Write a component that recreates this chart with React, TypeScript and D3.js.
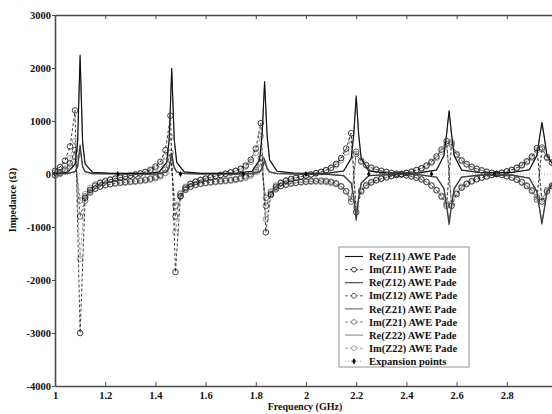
import React, { useEffect, useRef } from 'react';
import * as d3 from 'd3';

// sweep used for the imaginary parts (GHz)
const freqs = [
  1.00, 1.02, 1.04, 1.06, 1.08, 1.10, 1.12, 1.14, 1.16, 1.18,
  1.20, 1.22, 1.24, 1.26, 1.28, 1.30, 1.32, 1.34, 1.36, 1.38,
  1.40, 1.42, 1.44, 1.46, 1.48, 1.50, 1.52, 1.54, 1.56, 1.58,
  1.60, 1.62, 1.64, 1.66, 1.68, 1.70, 1.72, 1.74, 1.76, 1.78,
  1.80, 1.82, 1.84, 1.86, 1.88, 1.90, 1.92, 1.94, 1.96, 1.98,
  2.00, 2.02, 2.04, 2.06, 2.08, 2.10, 2.12, 2.14, 2.16, 2.18,
  2.20, 2.22, 2.24, 2.26, 2.28, 2.30, 2.32, 2.34, 2.36, 2.38,
  2.40, 2.42, 2.44, 2.46, 2.48, 2.50, 2.52, 2.54, 2.56, 2.58,
  2.60, 2.62, 2.64, 2.66, 2.68, 2.70, 2.72, 2.74, 2.76, 2.78,
  2.80, 2.82, 2.84, 2.86, 2.88, 2.90, 2.92, 2.94, 2.96, 2.98,
  3.00,
];

const imZ11 = [
  60, 130, 250, 520, 1200, -3000,
  -450, -300, -220, -170, -140, -110, -90, -70, -50, -30, -10, 10, 40, 80, 140, 230, 450, 1100,
  -1850,
  -420, -260, -190, -150, -115, -90, -65, -40, -20, 5, 30, 60, 100, 160, 270, 480, 960,
  -1100,
  -380, -240, -170, -130, -100, -75, -50, -30, -10, 15, 40, 75, 120, 190, 300, 480, 770,
  -720,
  -330, -220, -160, -120, -90, -65, -40, -20, 0, 20, 45, 75, 110, 160, 230, 330, 460, 620,
  -600,
  -380, -260, -190, -140, -100, -70, -45, -20, 0, 25, 50, 80, 120, 170, 240, 330, 490,
  -520, -330, -230, -170,
];

const imZ12 = [
  -20, 20, 80, 200, 450, -800,
  -500, -350, -280, -240, -210, -190, -175, -160, -150, -140, -130, -120, -105, -85, -60, -20, 80, 400,
  -800,
  -420, -300, -240, -200, -180, -165, -150, -140, -130, -120, -110, -95, -75, -45, 0, 80, 300,
  -600,
  -400, -290, -230, -200, -180, -165, -150, -140, -130, -125, -125, -130, -145, -175, -230, -330, -520,
  420,
  250, 170, 120, 85, 60, 40, 20, 5, -10, -25, -45, -70, -100, -150, -220, -310, -430, -600,
  560,
  360, 250, 180, 130, 95, 65, 40, 20, 0, -20, -45, -70, -110, -160, -230, -320, -480,
  500, 320, 220, 160,
];

const imZ21 = [
  -30, 0, 50, 140, 320, -500,
  -420, -330, -270, -235, -210, -195, -182, -172, -163, -155, -146, -136, -122, -104, -80, -45, 20, 250,
  -600,
  -380, -290, -240, -210, -190, -175, -163, -153, -144, -135, -125, -112, -95, -70, -30, 40, 200,
  -450,
  -350, -270, -225, -198, -180, -168, -158, -150, -145, -143, -145, -152, -165, -190, -240, -320, -470,
  380,
  230, 160, 115, 82, 58, 38, 20, 4, -12, -28, -48, -72, -104, -150, -215, -300, -410, -560,
  600,
  380, 265, 190, 140, 102, 72, 46, 24, 4, -16, -40, -66, -102, -150, -215, -300, -440,
  470, 300, 210, 150,
];

const imZ22 = [
  30, 80, 160, 300, 620, -1600,
  -380, -260, -195, -155, -125, -100, -80, -62, -45, -28, -10, 8, 30, 60, 105, 180, 330, 700,
  -1100,
  -360, -240, -175, -135, -105, -80, -58, -36, -16, 5, 28, 55, 90, 140, 230, 400, 720,
  -850,
  -330, -215, -155, -118, -90, -66, -45, -26, -8, 14, 36, 66, 105, 165, 260, 410, 650,
  -620,
  -300, -200, -145, -108, -80, -58, -36, -18, 0, 18, 40, 68, 100, 145, 210, 300, 420, 570,
  -560,
  -350, -240, -175, -128, -92, -64, -40, -18, 0, 22, 46, 74, 110, 156, 220, 305, 450,
  -480, -300, -210, -155,
];

// real parts are sampled more finely around each resonance
const reFreqs = [
  1.00, 1.05, 1.08, 1.09, 1.10, 1.11, 1.12, 1.15,
  1.22, 1.30, 1.38,
  1.415, 1.445, 1.455, 1.465, 1.475, 1.485, 1.515,
  1.58, 1.65, 1.72,
  1.785, 1.815, 1.825, 1.835, 1.845, 1.855, 1.885,
  1.95, 2.02, 2.09,
  2.15, 2.18, 2.19, 2.20, 2.21, 2.22, 2.25,
  2.32, 2.385, 2.45,
  2.52, 2.55, 2.56, 2.57, 2.58, 2.59, 2.62,
  2.69, 2.755, 2.82,
  2.89, 2.92, 2.93, 2.94, 2.95, 2.96, 3.00,
];

const reZ11 = [
  8, 32, 187, 596, 2250, 596, 187, 32,
  15, 12, 15,
  40, 220, 660, 2000, 660, 220, 40,
  15, 12, 15,
  50, 270, 735, 1750, 735, 270, 50,
  18, 14, 18,
  57, 296, 740, 1480, 740, 296, 57,
  22, 17, 22,
  76, 356, 755, 1200, 755, 356, 76,
  28, 22, 28,
  81, 352, 680, 980, 680, 352, 58,
];

const reZ12 = [
  2, 8, 46, 146, 550, 146, 46, 8,
  4, 0, -4,
  8, 44, 132, 400, 132, 44, 8,
  2, 0, -2,
  8, 43, 117, 280, 117, 43, 8,
  0, -4, -8,
  -34, -176, -440, -880, -440, -176, -34,
  -13, -10, -13,
  -60, -285, -603, -960, -603, -285, -60,
  -22, -18, -22,
  -79, -342, -657, -950, -657, -342, -56,
];

const reZ21 = [
  2, 7, 40, 127, 480, 127, 40, 7,
  3, 0, -3,
  6, 36, 109, 330, 109, 36, 6,
  2, 0, -2,
  6, 34, 92, 220, 92, 34, 6,
  0, -4, -7,
  -31, -164, -410, -820, -410, -164, -31,
  -12, -9, -12,
  -57, -267, -565, -900, -565, -267, -57,
  -21, -17, -21,
  -75, -324, -623, -900, -623, -324, -53,
];

const reZ22 = [
  8, 31, 183, 583, 2200, 583, 183, 31,
  14, 11, 14,
  38, 214, 642, 1950, 642, 214, 38,
  14, 11, 14,
  48, 260, 712, 1700, 712, 260, 48,
  17, 13, 17,
  55, 288, 720, 1440, 720, 288, 55,
  21, 16, 21,
  73, 344, 730, 1160, 730, 344, 73,
  27, 21, 27,
  79, 342, 657, 950, 657, 342, 56,
];

const expansionFreqs = [1, 1.25, 1.5, 1.75, 2, 2.25, 2.5, 2.75, 3];
const expansionValues = [0, 0, 0, 0, 0, 0, 0, 0, 0];

// the 3 GHz tick falls just outside the visible frame
const xTicks = [1, 1.2, 1.4, 1.6, 1.8, 2, 2.2, 2.4, 2.6, 2.8];
const yTicks = [-4000, -3000, -2000, -1000, 0, 1000, 2000, 3000];

const legendLabels = [
  'Re(Z11) AWE Pade', 'Im(Z11) AWE Pade',
  'Re(Z12) AWE Pade', 'Im(Z12) AWE Pade',
  'Re(Z21) AWE Pade', 'Im(Z21) AWE Pade',
  'Re(Z22) AWE Pade', 'Im(Z22) AWE Pade',
  'Expansion points',
];

const seriesColors = ['#111', '#111', '#3c3c3c', '#3c3c3c', '#666', '#666', '#8c8c8c', '#8c8c8c'];

const W = 552;
const H = 414;
const FONT = "'Liberation Serif', 'Times New Roman', serif";

export default function App() {
  const svgRef = useRef<SVGSVGElement>(null);

  useEffect(() => {
    if (!svgRef.current) return;
    const svg = d3.select(svgRef.current);
    svg.selectAll('*').remove();

    const x = d3.scaleLinear().domain([1, 3]).range([55, 557]);
    const y = d3.scaleLinear().domain([-4000, 3000]).range([386, 15]);

    const series = [
      { label: legendLabels[0], xs: reFreqs, ys: reZ11, color: seriesColors[0], im: false },
      { label: legendLabels[1], xs: freqs, ys: imZ11, color: seriesColors[1], im: true },
      { label: legendLabels[2], xs: reFreqs, ys: reZ12, color: seriesColors[2], im: false },
      { label: legendLabels[3], xs: freqs, ys: imZ12, color: seriesColors[3], im: true },
      { label: legendLabels[4], xs: reFreqs, ys: reZ21, color: seriesColors[4], im: false },
      { label: legendLabels[5], xs: freqs, ys: imZ21, color: seriesColors[5], im: true },
      { label: legendLabels[6], xs: reFreqs, ys: reZ22, color: seriesColors[6], im: false },
      { label: legendLabels[7], xs: freqs, ys: imZ22, color: seriesColors[7], im: true },
    ];

    const line = d3.line<[number, number]>().x(d => x(d[0])).y(d => y(d[1]));
    const plot = svg.append('g');

    // expansion points: dotted line along zero
    const expPts = expansionFreqs.map((f, i) => [f, expansionValues[i]] as [number, number]);
    plot.append('path')
      .attr('d', line(expPts))
      .attr('fill', 'none')
      .attr('stroke', '#888')
      .attr('stroke-width', 0.8)
      .attr('stroke-dasharray', '1,2');

    // draw the lightest first so Z11 stays on top; imag before real
    const order = [7, 5, 3, 1, 6, 4, 2, 0];
    order.forEach(idx => {
      const s = series[idx];
      const pts = s.xs.map((f, i) => [f, s.ys[i]] as [number, number]);
      plot.append('path')
        .attr('d', line(pts))
        .attr('fill', 'none')
        .attr('stroke', s.color)
        .attr('stroke-width', s.im ? 0.8 : 1.1)
        .attr('stroke-dasharray', s.im ? '3,2' : null);
      if (s.im) {
        plot.append('g').selectAll('circle')
          .data(pts)
          .join('circle')
          .attr('cx', d => x(d[0]))
          .attr('cy', d => y(d[1]))
          .attr('r', 2.8)
          .attr('fill', 'none')
          .attr('stroke', s.color)
          .attr('stroke-width', 0.8);
      }
    });

    plot.append('g').selectAll('path')
      .data(expPts)
      .join('path')
      .attr('transform', d => `translate(${x(d[0])},${y(d[1])})`)
      .attr('d', d3.symbol().type(d3.symbolDiamond).size(10)())
      .attr('fill', '#000');

    // axes
    const axisColor = '#4a4a4a';
    const styleAxis = (g: d3.Selection<SVGGElement, unknown, null, undefined>) => {
      g.select('.domain').attr('stroke', axisColor).attr('stroke-width', 1.6);
      g.selectAll('.tick line').attr('stroke', axisColor).attr('stroke-width', 1);
      g.selectAll('.tick text')
        .attr('fill', '#111')
        .attr('font-family', FONT)
        .attr('font-weight', 'bold')
        .attr('font-size', 10.5);
    };

    svg.append('g')
      .attr('transform', 'translate(0,386)')
      .call(d3.axisBottom(x).tickValues(xTicks).tickSize(-4).tickSizeOuter(0).tickPadding(6).tickFormat(d => String(d)))
      .call(styleAxis);

    svg.append('g')
      .attr('transform', 'translate(0,15)')
      .call(d3.axisTop(x).tickValues(xTicks).tickSize(-4).tickSizeOuter(0).tickFormat(() => ''))
      .call(styleAxis);

    svg.append('g')
      .attr('transform', 'translate(55,0)')
      .call(d3.axisLeft(y).tickValues(yTicks).tickSize(3).tickSizeOuter(0).tickPadding(1).tickFormat(d => String(d)))
      .call(styleAxis);

    // axis titles
    svg.append('text')
      .attr('x', 305)
      .attr('y', 410)
      .attr('text-anchor', 'middle')
      .attr('font-family', FONT)
      .attr('font-weight', 'bold')
      .attr('font-size', 10)
      .attr('fill', '#111')
      .text('Frequency (GHz)');

    svg.append('text')
      .attr('transform', 'translate(16,200) rotate(-90)')
      .attr('text-anchor', 'middle')
      .attr('font-family', FONT)
      .attr('font-weight', 'bold')
      .attr('font-size', 10)
      .attr('fill', '#111')
      .text('Impedance (Ω)');

    // legend
    const lg = svg.append('g').attr('transform', 'translate(339,247)');
    lg.append('rect')
      .attr('width', 130)
      .attr('height', 120)
      .attr('fill', '#fff')
      .attr('stroke', '#777')
      .attr('stroke-width', 0.8);

    legendLabels.forEach((label, i) => {
      const yy = 9.5 + i * 13.1;
      const row = lg.append('g').attr('transform', `translate(0,${yy})`);
      const isExp = i === 8;
      const s = series[i];
      const color = isExp ? '#888' : s.color;
      row.append('line')
        .attr('x1', 6).attr('x2', 24)
        .attr('stroke', color)
        .attr('stroke-width', isExp ? 0.8 : s.im ? 0.8 : 1.1)
        .attr('stroke-dasharray', isExp ? '1,2' : s.im ? '3,2' : null);
      if (isExp) {
        row.append('path')
          .attr('transform', 'translate(15,0)')
          .attr('d', d3.symbol().type(d3.symbolDiamond).size(12)())
          .attr('fill', '#000');
      } else if (s.im) {
        row.append('circle')
          .attr('cx', 15).attr('r', 2.4)
          .attr('fill', '#fff')
          .attr('stroke', color)
          .attr('stroke-width', 0.8);
      }
      row.append('text')
        .attr('x', 30)
        .attr('dy', '0.35em')
        .attr('font-family', FONT)
        .attr('font-weight', 'bold')
        .attr('font-size', 10.5)
        .attr('fill', '#111')
        .text(label);
    });
  }, []);

  return (
    <svg
      ref={svgRef}
      width={W}
      height={H}
      style={{ position: 'absolute', left: 0, top: 0, background: '#fff' }}
    />
  );
}
